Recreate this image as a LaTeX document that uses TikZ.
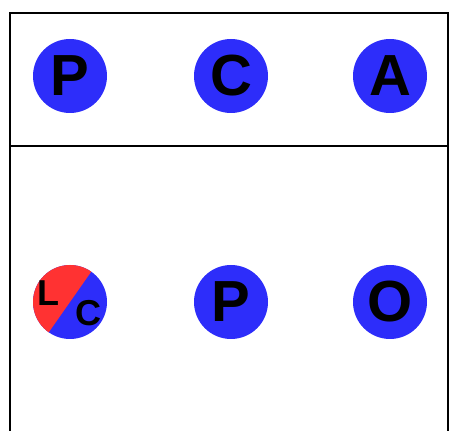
\documentclass[tikz,border=0pt]{standalone}
\usepackage{fontspec}
\setmainfont{Liberation Sans}
\usepackage{tikz}
\definecolor{dotblue}{RGB}{45,45,250}
\definecolor{dotred}{RGB}{255,50,50}

\begin{document}
\begin{tikzpicture}[x=1pt, y=1pt,
    dot/.style={circle, fill=dotblue, minimum size=74pt, inner sep=0pt,
      font=\fontsize{58}{58}\selectfont\bfseries},
    small/.style={inner sep=0pt, font=\fontsize{36}{36}\selectfont\bfseries}]
    \useasboundingbox (0,0) rectangle (450,431);
    % frame
    \draw[line width=2.5pt] (10,0) -- (10,418) -- (448,418) -- (448,0);
    \draw[line width=2.5pt] (10,285) -- (448,285);
    % top row
    \node[dot] (p1) at (70,355) {P};
    \node[dot] (c1) at (231,355) {C};
    \node[dot] (a1) at (390,355) {A};
    % bottom row
    \node[dot, path picture={\fill[dotred] (path picture bounding box.center)
      ++(55:60) -- ++(235:120) -- ++(145:60) -- ++(55:120) -- cycle;}] (lc) at (70,129) {};
    \node[small] (l) at (48,138) {L};
    \node[small] (c) at (88,118) {C};
    \node[dot] (p2) at (231,129) {P};
    \node[dot] (o2) at (390,129) {O};
\end{tikzpicture}
\end{document}
